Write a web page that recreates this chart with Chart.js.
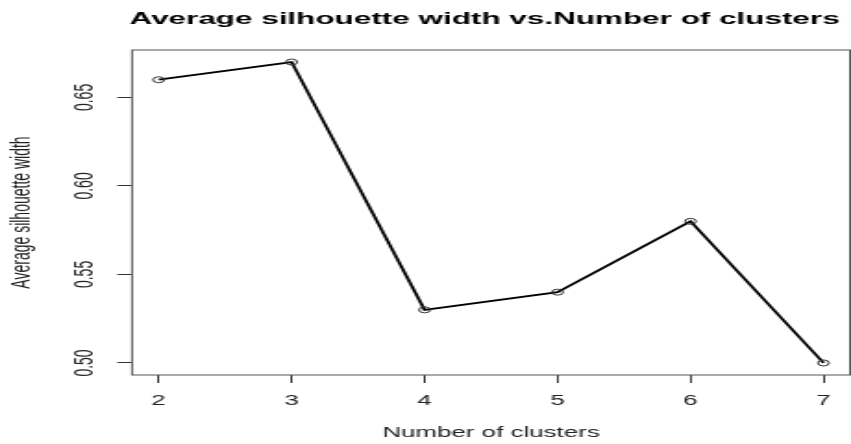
<!DOCTYPE html>
<html>
<head>
<meta charset="utf-8">
<script src="https://cdn.jsdelivr.net/npm/chart.js@4"></script>
<style>
  body { margin: 0; background: #fff; }
  #chart { display: block; }
</style>
</head>
<body>
<canvas id="chart" width="460" height="444" style="width:851px;height:444px"></canvas>
<script>
// data
const clusters = [2, 3, 4, 5, 6, 7];
const silhouette = [0.66, 0.67, 0.53, 0.54, 0.58, 0.50];
const xTicks = [2, 3, 4, 5, 6, 7];
const yTicks = [0.50, 0.55, 0.60, 0.65];

const mainTitle = "Average silhouette width vs.Number of clusters";
const font = "'Liberation Sans', Arial, sans-serif";

// R style box around the plot region plus the main title
const boxAndTitle = {
    id: 'boxAndTitle',
    afterDraw(chart) {
        const ctx = chart.ctx;
        const a = chart.chartArea;
        ctx.save();
        ctx.strokeStyle = '#555';
        ctx.lineWidth = 1;
        ctx.strokeRect(a.left, a.top, a.right - a.left, a.bottom - a.top);
        ctx.fillStyle = '#000';
        ctx.font = "bold 17px " + font;
        ctx.textAlign = 'center';
        ctx.textBaseline = 'alphabetic';
        ctx.fillText(mainTitle, (a.left + a.right) / 2 - 3.5, 24);
        ctx.restore();
    }
};

const ctx = document.getElementById('chart').getContext('2d');
new Chart(ctx, {
    type: 'line',
    data: {
        datasets: [{
            data: clusters.map((c, i) => ({ x: c, y: silhouette[i] })),
            borderColor: '#000',
            borderWidth: 1.8,
            pointRadius: 3,
            pointBorderWidth: 1,
            pointBorderColor: '#333',
            pointBackgroundColor: 'rgba(0,0,0,0)',
            tension: 0,
            clip: false
        }]
    },
    options: {
        responsive: false,
        devicePixelRatio: 1,
        animation: false,
        layout: { autoPadding: false, padding: { left: 3.8, top: 50, right: 0.5, bottom: 2.6 } },
        plugins: { legend: { display: false }, tooltip: { enabled: false } },
        scales: {
            x: {
                type: 'linear',
                min: 1.8,
                max: 7.2,
                afterBuildTicks: s => { s.ticks = xTicks.map(v => ({ value: v })); },
                afterFit: s => {
                    s.height = 444 - 2.6 - 375;
                    s.paddingLeft = 0;
                    s.paddingRight = 0;
                },
                border: { display: false },
                grid: { display: true, drawOnChartArea: false, drawTicks: true, tickLength: 8, color: '#333' },
                ticks: { color: '#222', padding: 10, font: { family: font, size: 14 } },
                title: {
                    display: true, text: 'Number of clusters', color: '#222',
                    padding: { top: 0, bottom: 0 }, font: { family: font, size: 14 }
                }
            },
            y: {
                min: 0.4932,
                max: 0.6768,
                afterBuildTicks: s => { s.ticks = yTicks.map(v => ({ value: v })); },
                afterFit: s => {
                    s.width = 71.35 - 3.8;
                    s.paddingTop = 0;
                    s.paddingBottom = 0;
                },
                border: { display: false },
                grid: { display: true, drawOnChartArea: false, drawTicks: true, tickLength: 8, color: '#333' },
                ticks: {
                    color: '#222', padding: 3.3, minRotation: 90, maxRotation: 90, crossAlign: 'center',
                    font: { family: font, size: 14 },
                    callback: v => v.toFixed(2)
                },
                title: {
                    display: true, text: 'Average silhouette width', color: '#222',
                    padding: { top: 0, bottom: 0 }, font: { family: font, size: 14 }
                }
            }
        }
    },
    plugins: [boxAndTitle]
});
</script>
</body>
</html>
